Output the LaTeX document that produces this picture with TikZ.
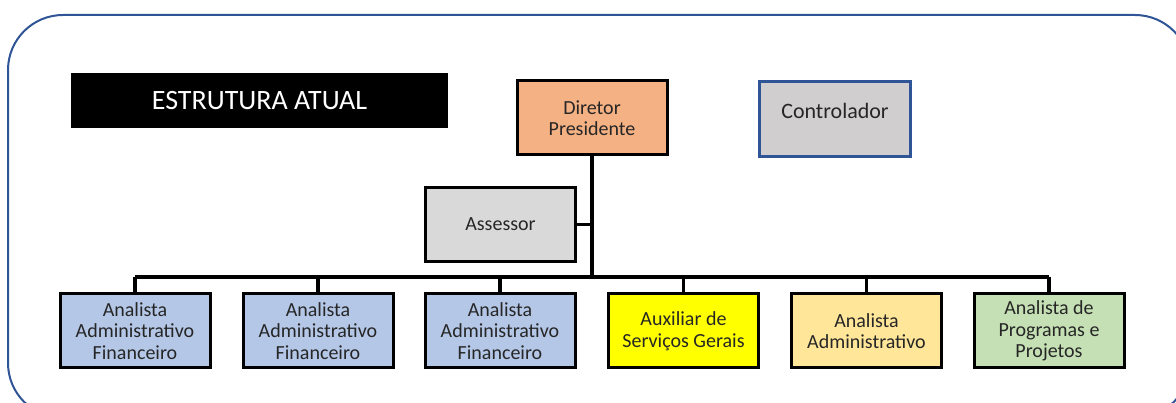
\documentclass[tikz,border=0pt]{standalone}
\usepackage{fontspec}
\setmainfont{Carlito}
\definecolor{outerblue}{HTML}{2F5597}
\definecolor{dirorange}{HTML}{F4B183}
\definecolor{ctrlgray}{HTML}{D0CECE}
\definecolor{assgray}{HTML}{D9D9D9}
\definecolor{afblue}{HTML}{B4C7E7}
\definecolor{auxyellow}{HTML}{FFFF00}
\definecolor{admorange}{HTML}{FFE699}
\definecolor{progreen}{HTML}{C5E0B4}
\begin{document}
\begin{tikzpicture}[x=1pt,y=-1pt,
  box/.style={draw=black,line width=3pt,minimum width=150pt,minimum height=74pt,
    align=center,inner sep=0pt,font=\fontsize{20}{21.5}\selectfont,text=black!85},
  conn/.style={line width=3.2pt,draw=black}]
\useasboundingbox (0,0) rectangle (1176,403);
\clip (0,0) rectangle (1176,403);
\draw[outerblue,line width=2pt,rounded corners=55pt] (8,15) rectangle (1190,418);
% title
\node[fill=black,minimum width=377pt,minimum height=55pt,inner sep=0pt,
  text=white,font=\fontsize{28}{32}\selectfont] (title) at (259.5,100.5) {ESTRUTURA ATUAL};
% top
\node[box,fill=dirorange] (dir) at (592,118) {Diretor\\Presidente};
\node[box,fill=ctrlgray,draw=outerblue,line width=2.2pt,minimum width=151pt,minimum height=75pt] (ctrl) at (835,119) {};
\node[font=\fontsize{22}{24}\selectfont,text=black!85] (ctrltxt) at (835,111) {Controlador};
\node[box,fill=assgray] (ass) at (500.5,224.5) {Assessor};
% bottom
\node[box,fill=afblue] (a1) at (135,331) {Analista\\Administrativo\\Financeiro};
\node[box,fill=afblue] (a2) at (318,331) {Analista\\Administrativo\\Financeiro};
\node[box,fill=afblue] (a3) at (500,331) {Analista\\Administrativo\\Financeiro};
\node[box,fill=auxyellow] (a4) at (683.5,331) {Auxiliar de\\Serviços Gerais};
\node[box,fill=admorange] (a5) at (866.5,331) {Analista\\Administrativo};
\node[box,fill=progreen] (a6) at (1049,331) {Analista de\\Programas e\\Projetos};
% connectors
\coordinate (bus) at (dir.south |- 0,277);
\coordinate (busL) at (a1.north |- 0,277);
\coordinate (busR) at (a6.north |- 0,277);
\draw[conn,line width=3.6pt] (dir.south) -- (bus);
\draw[conn] (ass.east) -- (ass.east -| dir.south);
\draw[conn] (busL) -- (busR);
\foreach \n in {a1,a2,a3,a4,a5,a6}{
  \draw[conn] (\n.north |- 0,277) -- (\n.north);
}
\end{tikzpicture}
\end{document}
